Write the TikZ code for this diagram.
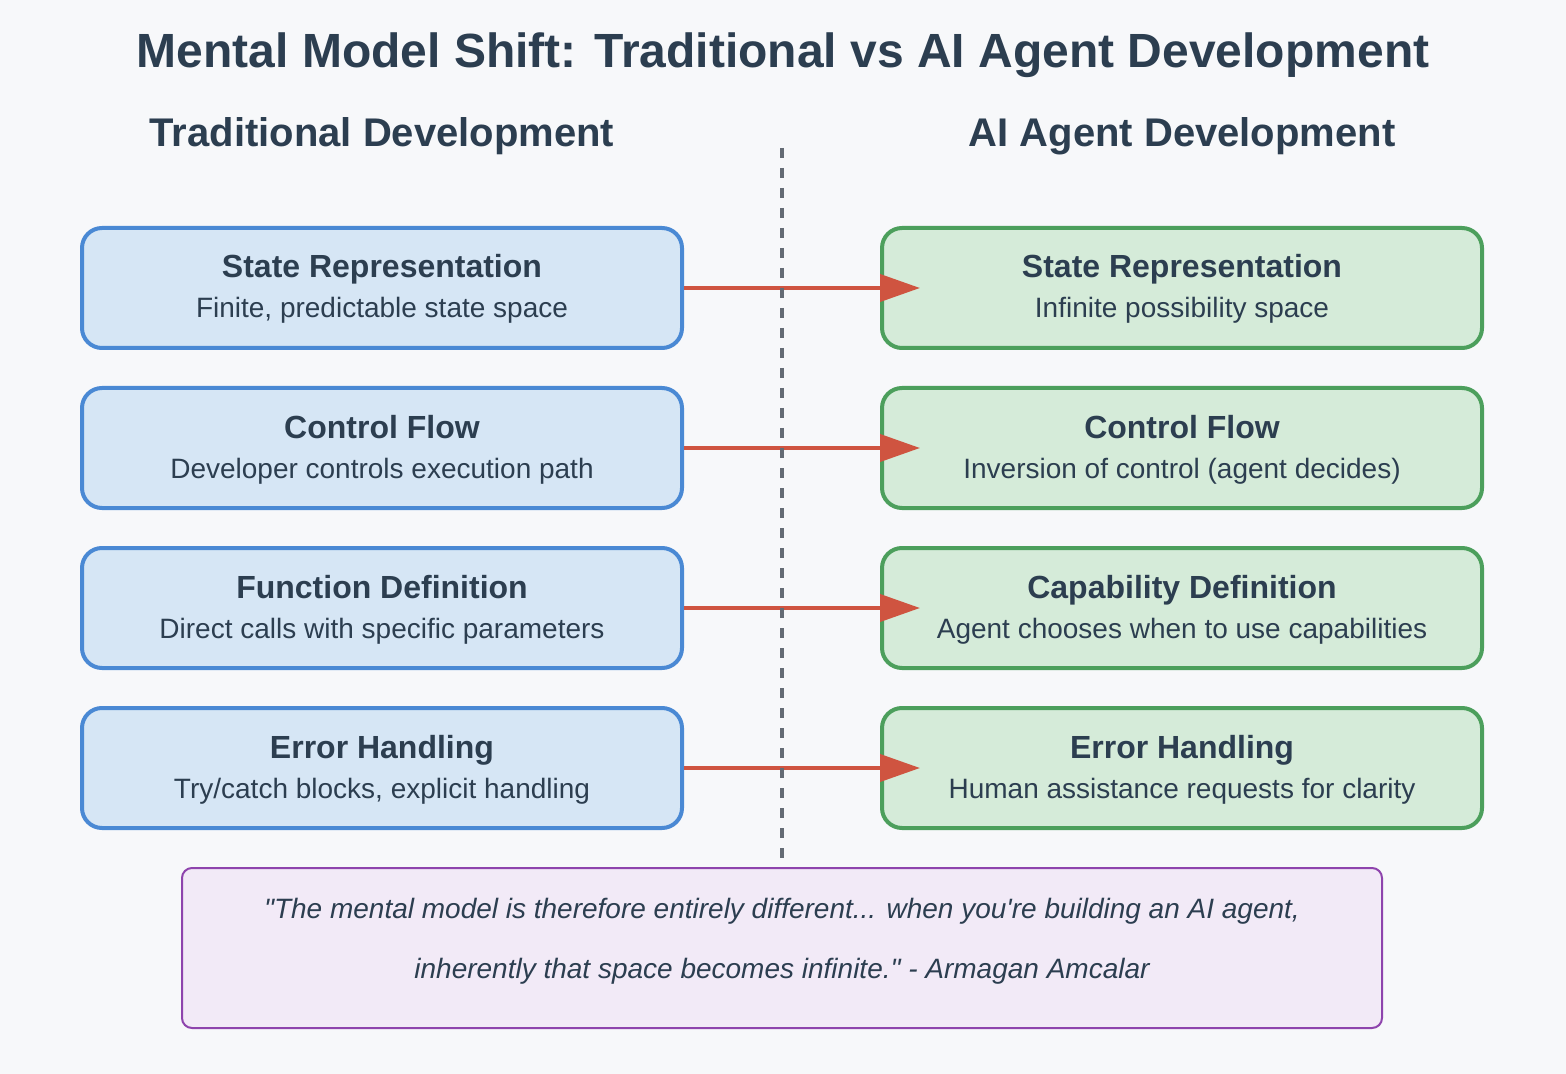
\documentclass[tikz,border=0pt]{standalone}
\usepackage{fontspec}
\setmainfont{Liberation Sans}[Ligatures=TeXOff]
\usetikzlibrary{arrows.meta}
\definecolor{ink}{HTML}{2C3E50}
\definecolor{pagebg}{HTML}{F7F8FA}
\definecolor{tradline}{HTML}{4A89D4}
\definecolor{tradfill}{HTML}{D6E6F5}
\definecolor{agentline}{HTML}{4C9F5C}
\definecolor{agentfill}{HTML}{D5EBD9}
\definecolor{shiftred}{HTML}{CF5440}
\definecolor{quoteline}{HTML}{8E44AD}
\definecolor{quotefill}{HTML}{F2EAF7}
\definecolor{divider}{HTML}{646B74}
\begin{document}
\begin{tikzpicture}[x=0.5pt,y=-0.5pt,
    tradbox/.style={draw=tradline,fill=tradfill,line width=2pt,rounded corners=10pt,minimum width=300pt,minimum height=60pt,inner sep=0pt},
    agentbox/.style={draw=agentline,fill=agentfill,line width=2pt,rounded corners=10pt,minimum width=300pt,minimum height=60pt,inner sep=0pt},
    boxhead/.style={anchor=base,text=ink,font=\bfseries\fontsize{16}{19}\selectfont},
    boxsub/.style={anchor=base,text=ink,font=\fontsize{14}{17}\selectfont},
    colhead/.style={anchor=base,text=ink,font=\bfseries\fontsize{20}{24}\selectfont},
    shiftarrow/.style={draw=shiftred,line width=2pt,-{Triangle[length=20pt,width=13.5pt]}}]
    %% Page
    \fill[pagebg] (0,0) rectangle (1566,1074);
    \useasboundingbox (0,0) rectangle (1566,1074);
    \node[anchor=base,text=ink,font=\bfseries\fontsize{24}{29}\selectfont] (title) at (783,68) {Mental Model Shift: Traditional vs AI Agent Development};
    %% Column headings
    \node[colhead] (tradhead) at (382,147) {Traditional Development};
    \node[colhead] (agenthead) at (1182,147) {AI Agent Development};
    %% Traditional side
    \node[tradbox] (trad1) at (382,288) {};
    \node[boxhead] (trad1h) at (382,278) {State Representation};
    \node[boxsub] (trad1s) at (382,318) {Finite, predictable state space};
    \node[tradbox] (trad2) at (382,448) {};
    \node[boxhead] (trad2h) at (382,438) {Control Flow};
    \node[boxsub] (trad2s) at (382,478) {Developer controls execution path};
    \node[tradbox] (trad3) at (382,608) {};
    \node[boxhead] (trad3h) at (382,598) {Function Definition};
    \node[boxsub] (trad3s) at (382,638) {Direct calls with specific parameters};
    \node[tradbox] (trad4) at (382,768) {};
    \node[boxhead] (trad4h) at (382,758) {Error Handling};
    \node[boxsub] (trad4s) at (382,798) {Try/catch blocks, explicit handling};
    %% Agent side
    \node[agentbox] (agent1) at (1182,288) {};
    \node[boxhead] (agent1h) at (1182,278) {State Representation};
    \node[boxsub] (agent1s) at (1182,318) {Infinite possibility space};
    \node[agentbox] (agent2) at (1182,448) {};
    \node[boxhead] (agent2h) at (1182,438) {Control Flow};
    \node[boxsub] (agent2s) at (1182,478) {Inversion of control (agent decides)};
    \node[agentbox] (agent3) at (1182,608) {};
    \node[boxhead] (agent3h) at (1182,598) {Capability Definition};
    \node[boxsub] (agent3s) at (1182,638) {Agent chooses when to use capabilities};
    \node[agentbox] (agent4) at (1182,768) {};
    \node[boxhead] (agent4h) at (1182,758) {Error Handling};
    \node[boxsub] (agent4s) at (1182,798) {Human assistance requests for clarity};
    %% Shifts
    \draw[shiftarrow] (trad1.east) -- ([xshift=20pt]agent1.west);
    \draw[shiftarrow] (trad2.east) -- ([xshift=20pt]agent2.west);
    \draw[shiftarrow] (trad3.east) -- ([xshift=20pt]agent3.west);
    \draw[shiftarrow] (trad4.east) -- ([xshift=20pt]agent4.west);
    %% Divider
    \coordinate (divtop) at (782,148);
    \coordinate (divbot) at (782,858);
    \draw[divider,line width=2pt,dash pattern=on 5pt off 5pt] (divtop) -- (divbot);
    %% Quote
    \node[draw=quoteline,fill=quotefill,line width=1pt,rounded corners=5pt,minimum width=600pt,minimum height=80pt,inner sep=0pt] (quote) at (782,948) {};
    \node[anchor=base,text=ink,font=\itshape\fontsize{14}{17}\selectfont] (quote1) at (782,918) {"The mental model is therefore entirely different... when you're building an AI agent,};
    \node[anchor=base,text=ink,font=\itshape\fontsize{14}{17}\selectfont] (quote2) at (782,978) {inherently that space becomes infinite." - Armagan Amcalar};
\end{tikzpicture}
\end{document}
